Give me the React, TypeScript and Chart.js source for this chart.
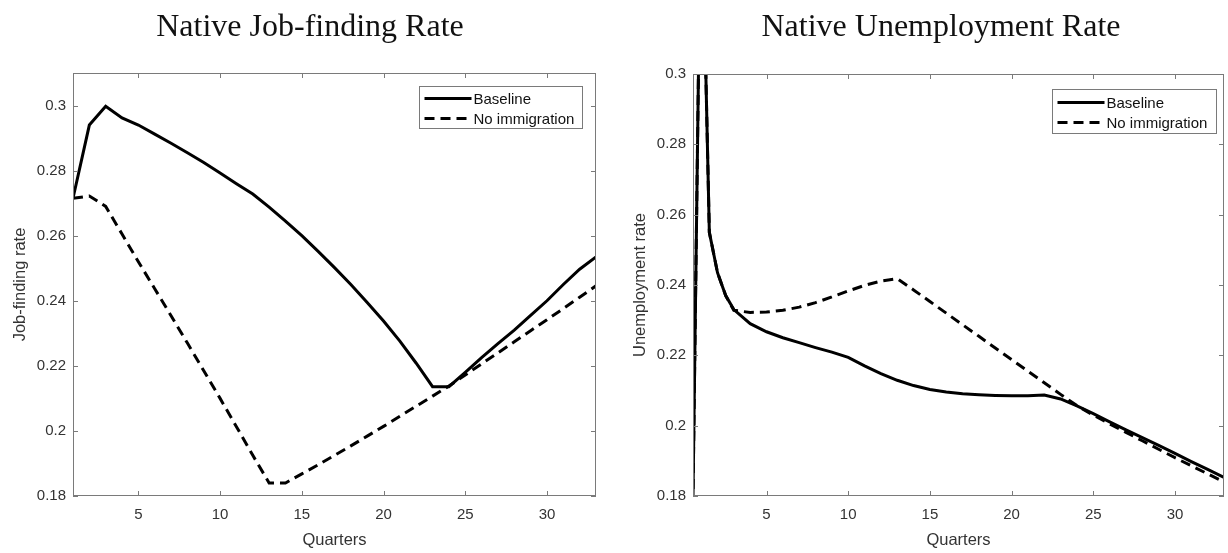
import React, { useEffect, useRef } from 'react';
import { Chart, registerables } from 'chart.js';

Chart.register(...registerables);

// ---------- data ----------
const QUARTERS_L = [1, 2, 3, 4, 5, 6, 7, 8, 9, 10, 11, 12, 13, 14, 15, 16, 17, 18, 19, 20, 21, 22, 23, 24, 25, 26, 27, 28, 29, 30, 31, 32, 33];
const JF_BASELINE = [0.2715, 0.294, 0.2998, 0.2962, 0.294, 0.2912, 0.2884, 0.2855, 0.2825, 0.2793, 0.276, 0.2728, 0.2688, 0.2645, 0.26, 0.2552, 0.2502, 0.245, 0.2395, 0.2338, 0.2276, 0.2208, 0.2136, 0.2136, 0.218, 0.2225, 0.2268, 0.231, 0.2355, 0.24, 0.245, 0.2497, 0.2535];
const JF_NO_IMMIGRATION = [0.2715, 0.2722, 0.269, 0.2605, 0.252, 0.2437, 0.2354, 0.227, 0.2185, 0.21, 0.2013, 0.1925, 0.184, 0.184, 0.1868, 0.1896, 0.1925, 0.1954, 0.1984, 0.2014, 0.2045, 0.2076, 0.2107, 0.2138, 0.2172, 0.2206, 0.224, 0.2274, 0.2308, 0.2342, 0.2376, 0.2411, 0.2446];

const QUARTERS_R = [0, 1, 1.5, 2, 2.5, 3, 4, 5, 6, 7, 8, 9, 10, 11, 12, 13, 14, 15, 16, 17, 18, 19, 20, 21, 22, 23, 24, 25, 26, 27, 28, 29, 30, 31, 32, 33];
const UR_BASELINE = [0.0, 0.36, 0.255, 0.2435, 0.237, 0.233, 0.229, 0.2267, 0.225, 0.2236, 0.2222, 0.2209, 0.2194, 0.217, 0.2148, 0.2129, 0.2114, 0.2103, 0.2096, 0.2091, 0.2088, 0.2086, 0.2085, 0.2085, 0.2087, 0.2076, 0.2056, 0.2034, 0.2011, 0.1988, 0.1966, 0.1944, 0.1921, 0.1898, 0.1876, 0.1853];
const UR_NO_IMMIGRATION = [0.0, 0.36, 0.255, 0.2435, 0.237, 0.2328, 0.2322, 0.2323, 0.2328, 0.2337, 0.235, 0.2366, 0.2383, 0.2399, 0.2411, 0.2418, 0.2386, 0.2353, 0.232, 0.2287, 0.2254, 0.2221, 0.2188, 0.2155, 0.2122, 0.2089, 0.2057, 0.203, 0.2005, 0.1981, 0.1957, 0.1933, 0.1909, 0.1886, 0.1863, 0.184];

const X_TICKS = [5, 10, 15, 20, 25, 30];
const Y_TICKS = [0.18, 0.2, 0.22, 0.24, 0.26, 0.28, 0.3];

const SERIES_LABELS = ['Baseline', 'No immigration'];

// ---------- styling ----------
const SANS = '"Liberation Sans", Arial, Helvetica, sans-serif';
const AXIS_GRAY = '#7a7a7a';
const TEXT_GRAY = '#333333';

const matlabFrame = {
  id: 'matlabFrame',
  afterDraw(chart: any, _args: any, opts: any) {
    const { ctx, chartArea: a, scales } = chart;
    const tl = opts.tickLength ?? 5;
    ctx.save();
    ctx.strokeStyle = AXIS_GRAY;
    ctx.lineWidth = 1;
    ctx.setLineDash([]);
    ctx.strokeRect(a.left + 0.5, a.top + 0.5, a.right - a.left - 1, a.bottom - a.top - 1);
    ctx.beginPath();
    scales.x.ticks.forEach((t: any) => {
      const px = Math.round(scales.x.getPixelForValue(t.value)) + 0.5;
      ctx.moveTo(px, a.bottom);
      ctx.lineTo(px, a.bottom - tl);
      ctx.moveTo(px, a.top);
      ctx.lineTo(px, a.top + tl);
    });
    scales.y.ticks.forEach((t: any) => {
      const py = Math.round(scales.y.getPixelForValue(t.value)) + 0.5;
      ctx.moveTo(a.left, py);
      ctx.lineTo(a.left + tl, py);
      ctx.moveTo(a.right, py);
      ctx.lineTo(a.right - tl, py);
    });
    ctx.stroke();

    // legend
    const lg = opts.legend;
    const x0 = Math.round(a.right - lg.right - lg.width) + 0.5;
    const y0 = Math.round(a.top + lg.top) + 0.5;
    ctx.fillStyle = '#ffffff';
    ctx.fillRect(x0, y0, lg.width, lg.height);
    ctx.strokeStyle = AXIS_GRAY;
    ctx.lineWidth = 1;
    ctx.strokeRect(x0, y0, lg.width, lg.height);
    ctx.font = `${lg.fontSize}px ${SANS}`;
    ctx.textBaseline = 'middle';
    ctx.textAlign = 'left';
    chart.data.datasets.forEach((ds: any, i: number) => {
      const cy = y0 + lg.firstRow + i * lg.rowGap;
      ctx.strokeStyle = ds.borderColor;
      ctx.lineWidth = ds.borderWidth;
      ctx.setLineDash(ds.borderDash || []);
      ctx.beginPath();
      ctx.moveTo(x0 + lg.lineStart, cy);
      ctx.lineTo(x0 + lg.lineEnd, cy);
      ctx.stroke();
      ctx.setLineDash([]);
      ctx.fillStyle = '#111111';
      ctx.fillText(ds.label, x0 + lg.lineEnd + 2, cy + 1);
    });
    ctx.restore();
  },
};

function makeConfig(p: {
  xs: number[];
  base: number[];
  noImm: number[];
  xMin: number;
  xMax: number;
  yMin: number;
  yMax: number;
  yTitle: string;
  yTitlePad: number;
  yAxisWidth: number;
  padTop: number;
  padRight: number;
  legend: any;
}) {
  const tickFont = { family: SANS, size: 15 };
  const titleFont = { family: SANS, size: 16.5 };
  return {
    type: 'line' as const,
    data: {
      datasets: [
        {
          label: SERIES_LABELS[0],
          data: p.xs.map((x, i) => ({ x, y: p.base[i] })),
          borderColor: '#000000',
          borderWidth: 3,
          pointRadius: 0,
          tension: 0,
          fill: false,
          clip: 0,
        },
        {
          label: SERIES_LABELS[1],
          data: p.xs.map((x, i) => ({ x, y: p.noImm[i] })),
          borderColor: '#000000',
          borderWidth: 3,
          borderDash: [10, 6],
          pointRadius: 0,
          tension: 0,
          fill: false,
          clip: 0,
        },
      ],
    },
    options: {
      animation: false,
      responsive: false,
      devicePixelRatio: 1,
      maintainAspectRatio: false,
      layout: { padding: { top: p.padTop, right: p.padRight, left: 0, bottom: 0 } },
      plugins: {
        legend: { display: false },
        tooltip: { enabled: false },
        title: { display: false },
        matlabFrame: { tickLength: 5, legend: p.legend },
      },
      scales: {
        x: {
          type: 'linear',
          min: p.xMin,
          max: p.xMax,
          afterBuildTicks: (s: any) => {
            s.ticks = X_TICKS.map((v) => ({ value: v }));
          },
          afterFit: (s: any) => {
            s.height = 57;
          },
          grid: { display: false, drawTicks: false },
          border: { display: false },
          ticks: { color: TEXT_GRAY, font: tickFont, padding: 10, maxRotation: 0, autoSkip: false },
          title: { display: true, text: 'Quarters', color: TEXT_GRAY, font: titleFont, padding: { top: 0, bottom: 3 } },
        },
        y: {
          type: 'linear',
          min: p.yMin,
          max: p.yMax,
          afterBuildTicks: (s: any) => {
            s.ticks = Y_TICKS.map((v) => ({ value: v }));
          },
          afterFit: (s: any) => {
            s.width = p.yAxisWidth;
          },
          grid: { display: false, drawTicks: false },
          border: { display: false },
          ticks: {
            color: TEXT_GRAY,
            font: tickFont,
            padding: 7,
            autoSkip: false,
            callback: (v: any) => String(Number(Number(v).toFixed(2))),
          },
          title: { display: true, text: p.yTitle, color: TEXT_GRAY, font: titleFont, padding: { top: p.yTitlePad, bottom: 0 } },
        },
      },
    },
    plugins: [matlabFrame],
  };
}

export default function App() {
  const leftRef = useRef<HTMLCanvasElement | null>(null);
  const rightRef = useRef<HTMLCanvasElement | null>(null);

  useEffect(() => {
    const left = new Chart(
      leftRef.current as HTMLCanvasElement,
      makeConfig({
        xs: QUARTERS_L,
        base: JF_BASELINE,
        noImm: JF_NO_IMMIGRATION,
        xMin: 1,
        xMax: 33,
        yMin: 0.18,
        yMax: 0.31,
        yTitle: 'Job-finding rate',
        yTitlePad: 11,
        yAxisWidth: 73,
        padTop: 73,
        padRight: 18,
        legend: { right: 14, top: 13, width: 163, height: 42, firstRow: 12, rowGap: 20, lineStart: 5, lineEnd: 52, fontSize: 15 },
      }) as any
    );
    const right = new Chart(
      rightRef.current as HTMLCanvasElement,
      makeConfig({
        xs: QUARTERS_R,
        base: UR_BASELINE,
        noImm: UR_NO_IMMIGRATION,
        xMin: 0.5,
        xMax: 33,
        yMin: 0.18,
        yMax: 0.3,
        yTitle: 'Unemployment rate',
        yTitlePad: 17,
        yAxisWidth: 79,
        padTop: 74,
        padRight: 4,
        legend: { right: 8, top: 15, width: 164, height: 44, firstRow: 13, rowGap: 20, lineStart: 5, lineEnd: 52, fontSize: 15 },
      }) as any
    );
    return () => {
      left.destroy();
      right.destroy();
    };
  }, []);

  const titleStyle: React.CSSProperties = {
    position: 'absolute',
    top: 9,
    width: 460,
    textAlign: 'center',
    fontFamily: '"Liberation Serif", "Times New Roman", serif',
    fontSize: 32,
    lineHeight: '32px',
    color: '#111111',
    whiteSpace: 'nowrap',
  };

  return (
    <div style={{ position: 'absolute', left: 0, top: 0, width: 1228, height: 553, background: '#ffffff', overflow: 'hidden' }}>
      <canvas ref={leftRef} width={614} height={553} style={{ position: 'absolute', left: 0, top: 0, width: 614, height: 553 }} />
      <canvas ref={rightRef} width={614} height={553} style={{ position: 'absolute', left: 614, top: 0, width: 614, height: 553 }} />
      <div style={{ ...titleStyle, left: 310 - 230 }}>Native Job-finding Rate</div>
      <div style={{ ...titleStyle, left: 941 - 230 }}>Native Unemployment Rate</div>
    </div>
  );
}
